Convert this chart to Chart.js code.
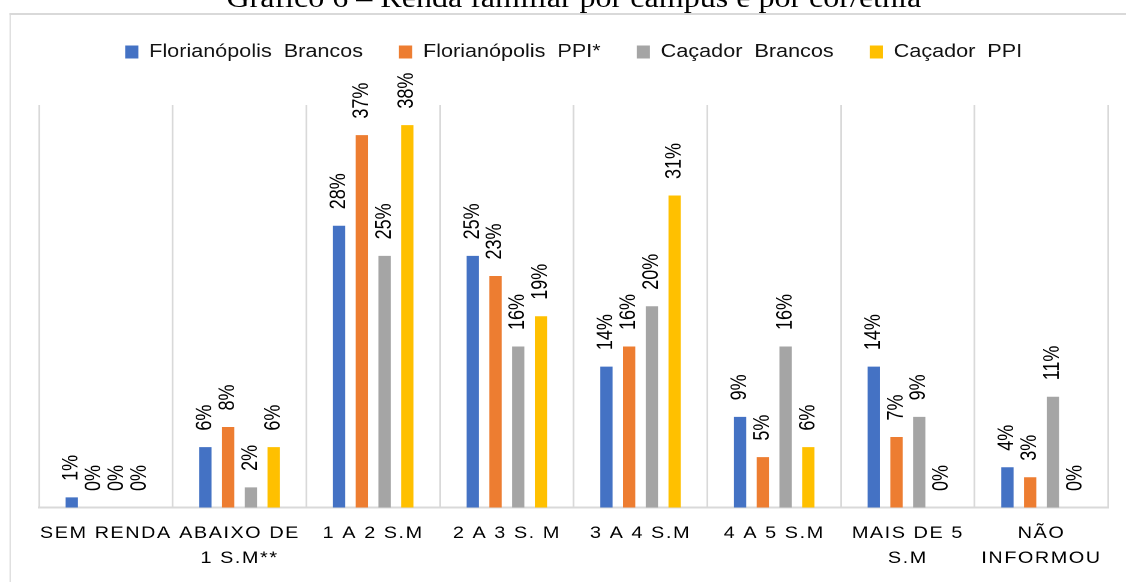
<!DOCTYPE html>
<html>
<head>
<meta charset="utf-8">
<script src="https://cdn.jsdelivr.net/npm/chart.js@4"></script>
<style>
  html, body { margin: 0; padding: 0; background: #fff; overflow: hidden; }
  /* the reference picture is stretched sideways, so the whole stage is too */
  #stage { position: absolute; left: 0; top: 0; width: 938px; height: 582px; transform: scaleX(1.2004); transform-origin: 0 0; }
  #frame { position: absolute; left: 7.6px; top: 13px; width: 1000px; height: 700px; border-left: 1.7px solid #d9d9d9; border-top: 2px solid #d9d9d9; }
  #title { position: absolute; left: 32.5px; width: 891px; top: -15px; text-align: center; font: 26.7px/26.7px 'Liberation Serif', 'Times New Roman', serif; color: #000; white-space: nowrap; }
  #box { position: absolute; left: 0; top: 0; width: 938px; height: 582px; }
</style>
</head>
<body>
<div id="stage">
  <div id="frame"></div>
  <div id="title">Gráfico 6 – Renda familiar por campus e por cor/etnia</div>
  <div id="box"><canvas id="chart"></canvas></div>
</div>
<script>
const categories = [
  'SEM RENDA',
  ['ABAIXO DE', '1 S.M**'],
  '1 A 2 S.M',
  '2 A 3 S. M',
  '3 A 4 S.M',
  '4 A 5 S.M',
  ['MAIS DE 5', 'S.M'],
  ['NÃO', 'INFORMOU']
];
const seriesNames = ['Florianópolis  Brancos', 'Florianópolis  PPI*', 'Caçador  Brancos', 'Caçador  PPI'];
const florianopolisBrancos = [1, 6, 28, 25, 14, 9, 14, 4];
const florianopolisPPI = [0, 8, 37, 23, 16, 5, 7, 3];
const cacadorBrancos = [0, 2, 25, 16, 20, 16, 9, 11];
const cacadorPPI = [0, 6, 38, 19, 31, 6, 0, 0];
const colors = ['#4472C4', '#ED7D31', '#A5A5A5', '#FFC000'];

const FONT = '"Liberation Sans", Arial, sans-serif';

// value labels above the bars, rotated to read bottom-up
const barLabels = {
  id: 'barLabels',
  afterDatasetsDraw(chart) {
    const ctx = chart.ctx;
    ctx.save();
    ctx.font = '18px ' + FONT;
    ctx.fillStyle = '#000';
    ctx.textAlign = 'left';
    ctx.textBaseline = 'middle';
    chart.data.datasets.forEach((ds, i) => {
      chart.getDatasetMeta(i).data.forEach((bar, j) => {
        ctx.save();
        ctx.translate(bar.x, bar.y - 16.5);
        ctx.rotate(-Math.PI / 2);
        ctx.fillText(ds.data[j] + '%', 0, 0);
        ctx.restore();
      });
    });
    ctx.restore();
    // spaced-out category labels are drawn after this (ticks z = 1)
    ctx.letterSpacing = '1.3px';
  },
  afterDraw(chart) {
    chart.ctx.letterSpacing = '0px';
  }
};

// extra room under the legend
const legendGap = {
  id: 'legendGap',
  beforeLayout(chart) {
    const legend = chart.legend;
    if (!legend || legend._patched) return;
    const fit = legend.fit;
    legend.fit = function () {
      fit.call(this);
      this.height += 34;
    };
    legend._patched = true;
  }
};

const datasets = [florianopolisBrancos, florianopolisPPI, cacadorBrancos, cacadorPPI].map((values, i) => ({
  label: seriesNames[i],
  data: values,
  backgroundColor: colors[i],
  borderWidth: 0,
  categoryPercentage: 0.68,
  barPercentage: 0.54
}));

new Chart(document.getElementById('chart'), {
  type: 'bar',
  data: { labels: categories, datasets },
  options: {
    responsive: true,
    maintainAspectRatio: false,
    animation: false,
    devicePixelRatio: 2,
    layout: { padding: { top: 13, left: 32.5, right: 14.7, bottom: -2.5 } },
    plugins: {
      legend: {
        position: 'top',
        labels: {
          boxWidth: 11,
          boxHeight: 13,
          padding: 30,
          color: '#111',
          font: { family: FONT, size: 18 }
        }
      },
      tooltip: { enabled: false }
    },
    scales: {
      x: {
        grid: { color: '#d9d9d9', lineWidth: 1.5, drawTicks: false, offset: true },
        border: { color: '#d9d9d9', width: 2 },
        ticks: {
          z: 1,
          padding: 13.5,
          maxRotation: 0,
          minRotation: 0,
          autoSkip: false,
          color: '#000',
          font: { family: FONT, size: 16.5, lineHeight: 1.5152 }
        }
      },
      y: { display: false, min: 0, max: 40 }
    }
  },
  plugins: [barLabels, legendGap]
});
</script>
</body>
</html>
